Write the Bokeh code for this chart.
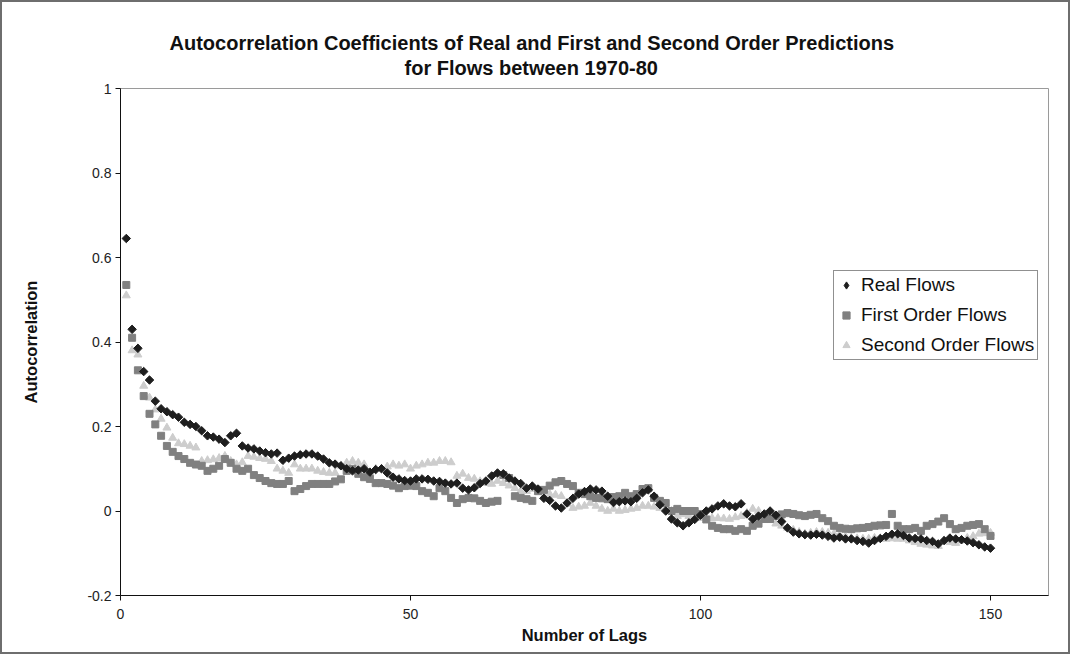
import numpy as np
from bokeh.plotting import figure
from bokeh.models import (ColumnDataSource, Title, Legend, LegendItem,
                          FixedTicker, NumeralTickFormatter)
from bokeh.embed import file_html
from bokeh.resources import INLINE

# Lags 1..150
lags = list(range(1, 151))

real_flows = [
    0.645, 0.43, 0.385, 0.33, 0.31, 0.26, 0.242, 0.235, 0.228, 0.222,
    0.21, 0.205, 0.2, 0.19, 0.178, 0.175, 0.17, 0.162, 0.178, 0.184,
    0.154, 0.149, 0.147, 0.142, 0.138, 0.135, 0.137, 0.12, 0.125, 0.13,
    0.133, 0.135, 0.135, 0.13, 0.123, 0.114, 0.111, 0.107, 0.1, 0.095,
    0.097, 0.1, 0.092, 0.098, 0.1, 0.09, 0.08, 0.076, 0.072, 0.071,
    0.076, 0.076, 0.075, 0.071, 0.07, 0.066, 0.064, 0.066, 0.054, 0.05,
    0.055, 0.065, 0.071, 0.083, 0.09, 0.088, 0.078, 0.071, 0.065, 0.054,
    0.059, 0.052, 0.03, 0.025, 0.012, 0.007, 0.019, 0.03, 0.04, 0.046,
    0.052, 0.05, 0.047, 0.035, 0.02, 0.022, 0.024, 0.022, 0.03, 0.043,
    0.05, 0.035, 0.015, 0.0, -0.019, -0.028, -0.035, -0.028, -0.02, -0.01,
    0.0, 0.005, 0.012, 0.017, 0.012, 0.01, 0.017, -0.007, -0.019, -0.012,
    -0.007, 0.0, -0.01, -0.025, -0.04, -0.05, -0.054, -0.056, -0.057, -0.055,
    -0.057, -0.06, -0.064, -0.062, -0.066, -0.066, -0.07, -0.072, -0.076, -0.07,
    -0.065, -0.06, -0.055, -0.054, -0.058, -0.064, -0.065, -0.066, -0.07, -0.072,
    -0.078, -0.07, -0.064, -0.066, -0.068, -0.071, -0.075, -0.08, -0.085, -0.088,
]

first_order = [
    0.535, 0.41, 0.333, 0.272, 0.23, 0.205, 0.178, 0.154, 0.14, 0.13,
    0.123, 0.114, 0.11, 0.107, 0.095, 0.1, 0.107, 0.123, 0.114, 0.1,
    0.095, 0.1, 0.085, 0.078, 0.071, 0.066, 0.064, 0.064, 0.071, 0.047,
    0.052, 0.059, 0.064, 0.064, 0.064, 0.064, 0.07, 0.075, 0.095, 0.1,
    0.088, 0.08, 0.076, 0.066, 0.066, 0.064, 0.06, 0.054, 0.059, 0.06,
    0.059, 0.047, 0.043, 0.035, 0.054, 0.047, 0.031, 0.019, 0.028, 0.031,
    0.03, 0.024, 0.019, 0.022, 0.024, 0.085, 0.078, 0.035, 0.031, 0.028,
    0.024, 0.047, 0.05, 0.06, 0.068, 0.071, 0.064, 0.059, 0.043, 0.04,
    0.035, 0.031, 0.03, 0.028, 0.033, 0.035, 0.043, 0.035, 0.04, 0.052,
    0.054, 0.031, 0.024, 0.019, 0.0, 0.005, 0.0, 0.0, 0.0, -0.007,
    -0.02, -0.035, -0.04, -0.043, -0.043, -0.047, -0.043, -0.047, -0.035, -0.03,
    -0.019, -0.019, -0.012, -0.008, -0.005, -0.007, -0.01, -0.012, -0.009, -0.007,
    -0.017, -0.024, -0.035, -0.04, -0.042, -0.043, -0.041, -0.04, -0.038, -0.035,
    -0.034, -0.033, -0.007, -0.035, -0.043, -0.043, -0.04, -0.047, -0.035, -0.031,
    -0.025, -0.017, -0.031, -0.043, -0.04, -0.035, -0.033, -0.031, -0.043, -0.059,
]

second_order = [
    0.51, 0.38, 0.37, 0.296, 0.268, 0.24, 0.218, 0.197, 0.173, 0.16,
    0.158, 0.154, 0.15, 0.118, 0.12, 0.122, 0.125, 0.13, 0.118, 0.11,
    0.115, 0.13, 0.128, 0.125, 0.123, 0.118, 0.1, 0.095, 0.09, 0.11,
    0.1, 0.1, 0.1, 0.095, 0.092, 0.09, 0.09, 0.107, 0.114, 0.118,
    0.114, 0.11, 0.09, 0.1, 0.1, 0.105, 0.11, 0.107, 0.11, 0.1,
    0.107, 0.11, 0.114, 0.114, 0.118, 0.118, 0.115, 0.083, 0.088, 0.078,
    0.076, 0.07, 0.066, 0.064, 0.071, 0.066, 0.06, 0.054, 0.047, 0.047,
    0.052, 0.045, 0.035, 0.04, 0.038, 0.035, 0.017, 0.007, 0.01, 0.012,
    0.019, 0.012, 0.005, 0.0, 0.005, 0.0, 0.002, 0.005, 0.007, 0.012,
    0.012, 0.01, 0.007, 0.007, 0.0, -0.012, -0.008, -0.012, -0.015, -0.017,
    -0.017, -0.017, -0.017, -0.018, -0.019, -0.015, -0.012, -0.005, 0.005, 0.0,
    -0.01, -0.02, -0.03, -0.035, -0.04, -0.045, -0.05, -0.054, -0.052, -0.05,
    -0.05, -0.052, -0.054, -0.056, -0.06, -0.064, -0.065, -0.066, -0.066, -0.064,
    -0.066, -0.066, -0.065, -0.066, -0.066, -0.07, -0.074, -0.078, -0.08, -0.082,
    -0.083, -0.071, -0.074, -0.076, -0.07, -0.064, -0.06, -0.054, -0.053, -0.052,
]

series_names = ["Real Flows", "First Order Flows", "Second Order Flows"]
x_ticks = [0, 50, 100, 150]
y_ticks = [-0.2, 0, 0.2, 0.4, 0.6, 0.8, 1]

FONT = "Liberation Sans"
C_REAL, C_FIRST, C_SECOND = "#1e1e1e", "#808080", "#cdcdcd"

src = ColumnDataSource(dict(lag=lags, real=real_flows,
                            first=first_order, second=second_order))

# the 2px border below shifts the canvas by 2px, borders compensate for it
p = figure(width=1070, height=654, x_range=(0, 160), y_range=(-0.2, 1),
           output_backend="svg", toolbar_location=None,
           min_border_left=118, min_border_right=24,
           min_border_top=86, min_border_bottom=61,
           background_fill_color="white", border_fill_color="white")
p.grid.visible = False
p.outline_line_color = "#9a9a9a"
p.outline_line_width = 1
# frame around the whole chart area
p.styles = {"border": "2px solid #6e6e6e", "box-sizing": "border-box"}

# two-line heading, the line nearest the plot is added first
p.add_layout(Title(text="for Flows between 1970-80", align="left",
                   text_font=FONT, text_font_size="20px",
                   text_font_style="bold", text_color="#111111",
                   standoff=20, offset=284), "above")
p.add_layout(Title(text="Autocorrelation Coefficients of Real and First and "
                        "Second Order Predictions", align="left",
                   text_font=FONT, text_font_size="20px",
                   text_font_style="bold", text_color="#111111",
                   standoff=-18, offset=49), "above")

# series: lightest drawn first so the darker marks sit on top
r2 = p.scatter("lag", "second", source=src, marker="triangle", size=8,
               fill_color=C_SECOND, line_color=C_SECOND)
r1 = p.scatter("lag", "first", source=src, marker="square", size=7,
               fill_color=C_FIRST, line_color=C_FIRST)
r0 = p.scatter("lag", "real", source=src, marker="square", angle=np.pi / 4,
               size=6, fill_color=C_REAL, line_color=C_REAL)
# legend key for the diamond series (same data, not drawn in the plot)
key0 = p.scatter("lag", "real", source=src, marker="diamond", size=10,
                 fill_color=C_REAL, line_color=C_REAL, visible=False)

legend = Legend(items=[LegendItem(label=series_names[0], renderers=[key0]),
                       LegendItem(label=series_names[1], renderers=[r1]),
                       LegendItem(label=series_names[2], renderers=[r2])],
                location=(713, 235), orientation="vertical",
                border_line_color="#222222", border_line_width=1,
                background_fill_color="white", background_fill_alpha=1,
                inactive_fill_alpha=0,
                label_text_font=FONT, label_text_font_size="19px",
                label_text_color="#111111",
                padding=3, spacing=8, glyph_width=18, glyph_height=20,
                label_height=20, label_standoff=6, margin=0)
p.add_layout(legend)

for ax in (p.xaxis[0], p.yaxis[0]):
    ax.axis_line_color = "#111111"
    ax.major_tick_line_color = "#111111"
    ax.minor_tick_line_color = None
    ax.major_tick_in = 0
    ax.major_tick_out = 5
    ax.major_label_text_font = FONT
    ax.major_label_text_font_size = "14px"
    ax.major_label_text_color = "#222222"
    ax.axis_label_text_font = FONT
    ax.axis_label_text_font_size = "16.5px"
    ax.axis_label_text_font_style = "bold"
    ax.axis_label_text_color = "#111111"

p.xaxis.ticker = FixedTicker(ticks=x_ticks)
p.yaxis.ticker = FixedTicker(ticks=y_ticks)
p.yaxis.formatter = NumeralTickFormatter(format="0.[0]")
p.xaxis.axis_label = "Number of Lags"
p.yaxis.axis_label = "Autocorrelation"
p.xaxis.major_label_standoff = 8
p.xaxis.axis_label_standoff = 4
p.yaxis.major_label_standoff = 4
p.yaxis.axis_label_standoff = 44

open("out.html", "w").write(file_html(p, INLINE))
